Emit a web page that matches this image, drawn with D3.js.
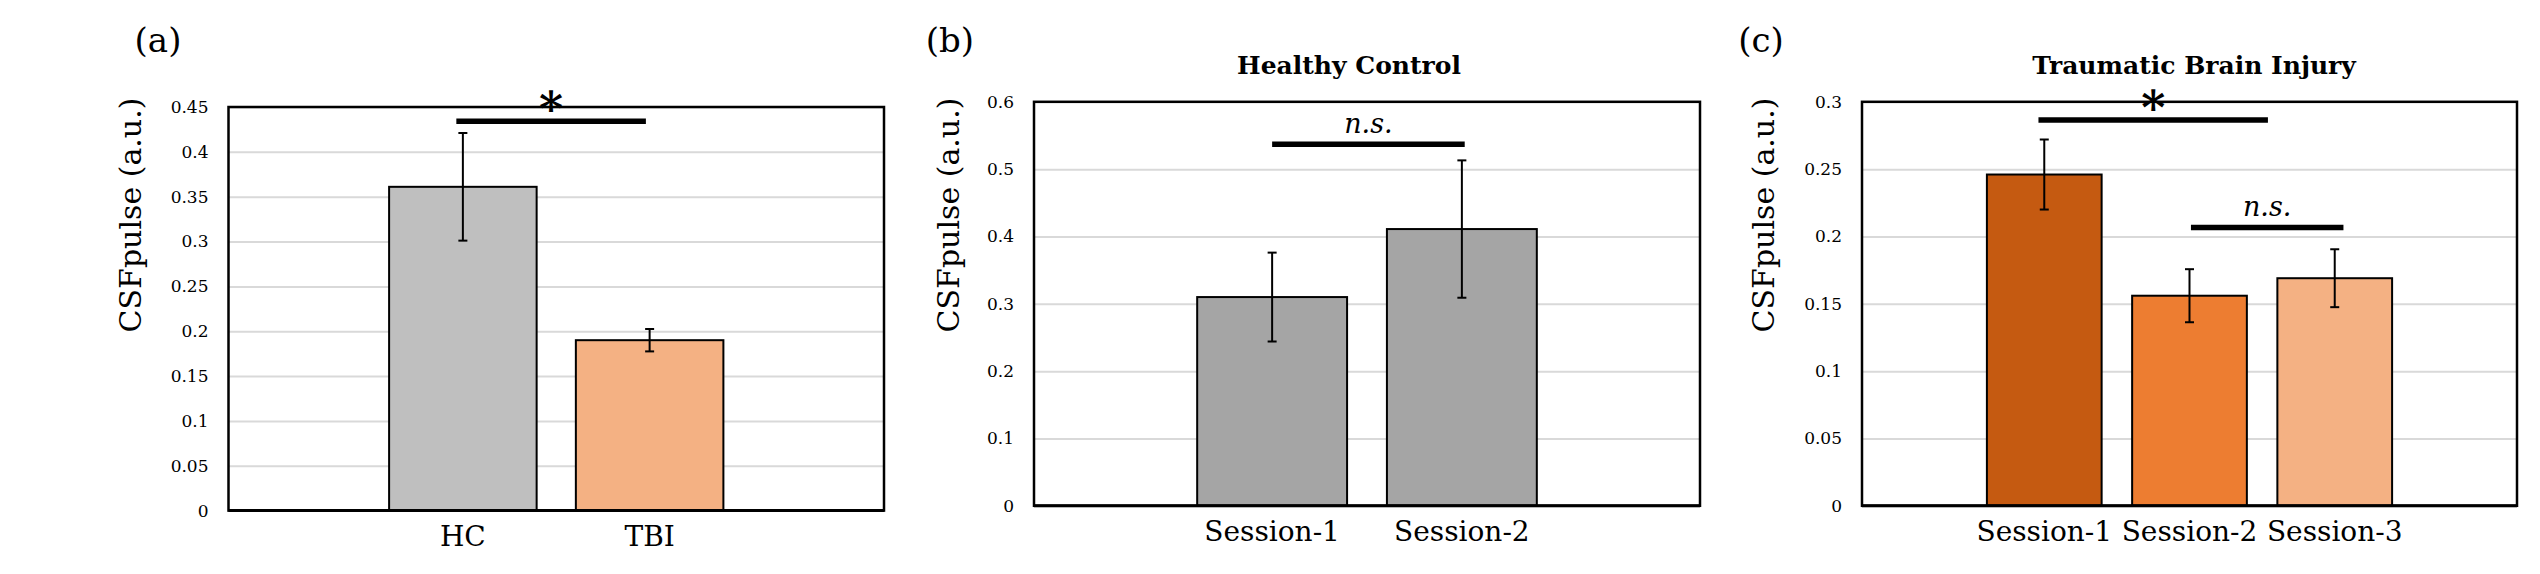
<!DOCTYPE html>
<html>
<head>
<meta charset="utf-8">
<script src="https://cdn.jsdelivr.net/npm/d3@7"></script>
<style>
  body { margin: 0; background: #fff; }
  svg { display: block; }
  .tick text { font-family: "DejaVu Serif", serif; }
</style>
</head>
<body>
<div class="chart"></div>
<script>
"use strict";

const W = 2540, H = 574;

// DATA ----------------------------
const panelACategories = ["HC", "TBI"];
const panelAMeans = [0.361, 0.19];
const panelAErrors = [0.06, 0.0125];
const panelAColors = ["#BFBFBF", "#F4B183"];
const panelATicks = [0, 0.05, 0.1, 0.15, 0.2, 0.25, 0.3, 0.35, 0.4, 0.45];
const panelASig = [{ from: -0.035, to: 0.98, y: 0.434, label: "*" }];

const panelBCategories = ["Session-1", "Session-2"];
const panelBMeans = [0.31, 0.411];
const panelBErrors = [0.066, 0.102];
const panelBColors = ["#A5A5A5", "#A5A5A5"];
const panelBTicks = [0, 0.1, 0.2, 0.3, 0.4, 0.5, 0.6];
const panelBSig = [{ from: 0, to: 1.015, y: 0.537, label: "n.s." }];

const panelCCategories = ["Session-1", "Session-2", "Session-3"];
const panelCMeans = [0.246, 0.156, 0.169];
const panelCErrors = [0.026, 0.0197, 0.0215];
const panelCColors = ["#C55A11", "#ED7D31", "#F4B183"];
const panelCTicks = [0, 0.05, 0.1, 0.15, 0.2, 0.25, 0.3];
const panelCSig = [
  { from: -0.04, to: 1.54, y: 0.2865, label: "*" },
  { from: 1.01, to: 2.06, y: 0.2067, label: "n.s." }
];

// LAYOUT ----------------------------
const panels = [
  {
    tag: "(a)", tagX: 158, title: null,
    left: 228.5, right: 884, top: 107, bottom: 510.6,
    yTitleX: 130,
    cats: panelACategories, means: panelAMeans, errs: panelAErrors,
    colors: panelAColors, ticks: panelATicks, sig: panelASig, labelY: 546
  },
  {
    tag: "(b)", tagX: 950, title: "Healthy Control", titleX: 1349,
    left: 1034, right: 1700, top: 101.8, bottom: 505.8,
    yTitleX: 948,
    cats: panelBCategories, means: panelBMeans, errs: panelBErrors,
    colors: panelBColors, ticks: panelBTicks, sig: panelBSig, labelY: 541
  },
  {
    tag: "(c)", tagX: 1761, title: "Traumatic Brain Injury", titleX: 2194,
    left: 1862, right: 2517, top: 101.8, bottom: 505.8,
    yTitleX: 1763,
    cats: panelCCategories, means: panelCMeans, errs: panelCErrors,
    colors: panelCColors, ticks: panelCTicks, sig: panelCSig, labelY: 541
  }
];

const svg = d3
  .select(".chart")
  .append("svg")
  .attr("width", W)
  .attr("height", H);

svg.append("rect").attr("width", W).attr("height", H).attr("fill", "#fff");

function drawPanel(p) {
  const g = svg.append("g");
  const width = p.right - p.left;

  const x = d3
    .scaleBand()
    .domain(p.cats)
    .range([p.left, p.right])
    .paddingInner(0.21)
    .paddingOuter(0.86);

  const y = d3
    .scaleLinear()
    .domain([0, d3.max(p.ticks)])
    .range([p.bottom, p.top]);

  // position along category index (fractional allowed)
  const pos = d3
    .scaleLinear()
    .domain([0, 1])
    .range([x(p.cats[0]) + x.bandwidth() / 2, x(p.cats[0]) + x.bandwidth() / 2 + x.step()]);

  const data = p.cats.map((c, i) => ({ cat: c, mean: p.means[i], err: p.errs[i], color: p.colors[i] }));

  // gridlines
  const grid = g
    .append("g")
    .attr("transform", `translate(${p.left},0)`)
    .call(d3.axisLeft(y).tickValues(p.ticks.filter((t) => t > 0)).tickSize(-width).tickFormat(""));
  grid.select(".domain").remove();
  grid.selectAll("line").attr("stroke", "#D9D9D9").attr("stroke-width", 2);

  // tick labels
  const yAxis = g
    .append("g")
    .attr("transform", `translate(${p.left - 20},0)`)
    .call(d3.axisLeft(y).tickValues(p.ticks).tickSize(0).tickPadding(0).tickFormat((d) => String(d)));
  yAxis.select(".domain").remove();
  yAxis.selectAll("text").attr("font-size", 17).attr("fill", "#000");

  // bars
  g.selectAll(".bar")
    .data(data)
    .enter()
    .append("rect")
    .attr("class", "bar")
    .attr("x", (d) => x(d.cat))
    .attr("y", (d) => y(d.mean))
    .attr("width", x.bandwidth())
    .attr("height", (d) => p.bottom - y(d.mean))
    .attr("fill", (d) => d.color)
    .attr("stroke", "#000")
    .attr("stroke-width", 2);

  // error bars
  const eb = g.selectAll(".err").data(data).enter().append("g").attr("class", "err");
  const cx = (d) => x(d.cat) + x.bandwidth() / 2;
  eb.append("line")
    .attr("x1", cx).attr("x2", cx)
    .attr("y1", (d) => y(d.mean + d.err))
    .attr("y2", (d) => y(d.mean - d.err));
  eb.append("line")
    .attr("x1", (d) => cx(d) - 4.5).attr("x2", (d) => cx(d) + 4.5)
    .attr("y1", (d) => y(d.mean + d.err)).attr("y2", (d) => y(d.mean + d.err));
  eb.append("line")
    .attr("x1", (d) => cx(d) - 4.5).attr("x2", (d) => cx(d) + 4.5)
    .attr("y1", (d) => y(d.mean - d.err)).attr("y2", (d) => y(d.mean - d.err));
  eb.selectAll("line").attr("stroke", "#000").attr("stroke-width", 2);

  // frame
  g.append("rect")
    .attr("x", p.left)
    .attr("y", p.top)
    .attr("width", width)
    .attr("height", p.bottom - p.top)
    .attr("fill", "none")
    .attr("stroke", "#000")
    .attr("stroke-width", 2.5);
  g.append("line")
    .attr("x1", p.left).attr("x2", p.right)
    .attr("y1", p.bottom).attr("y2", p.bottom)
    .attr("stroke", "#000").attr("stroke-width", 3);

  // x labels
  g.selectAll(".xlab")
    .data(data)
    .enter()
    .append("text")
    .attr("class", "xlab")
    .attr("x", cx)
    .attr("y", p.labelY)
    .attr("text-anchor", "middle")
    .attr("font-family", "DejaVu Serif, serif")
    .attr("font-size", 28)
    .text((d) => d.cat);

  // y title
  g.append("text")
    .attr("transform", `translate(${p.yTitleX},215) rotate(-90)`)
    .attr("dy", "0.36em")
    .attr("text-anchor", "middle")
    .attr("font-family", "DejaVu Serif, serif")
    .attr("font-size", 30)
    .text("CSFpulse (a.u.)");

  // panel tag
  g.append("text")
    .attr("x", p.tagX)
    .attr("y", 52)
    .attr("text-anchor", "middle")
    .attr("font-family", "DejaVu Serif, serif")
    .attr("font-size", 34)
    .text(p.tag);

  // title
  if (p.title) {
    g.append("text")
      .attr("x", p.titleX)
      .attr("y", 74)
      .attr("text-anchor", "middle")
      .attr("font-family", "DejaVu Serif, serif")
      .attr("font-weight", "bold")
      .attr("font-size", 25)
      .text(p.title);
  }

  // significance markers
  p.sig.forEach((s) => {
    const x0 = pos(s.from), x1 = pos(s.to), yy = y(s.y);
    g.append("line")
      .attr("x1", x0).attr("x2", x1)
      .attr("y1", yy).attr("y2", yy)
      .attr("stroke", "#000")
      .attr("stroke-width", 5.5);
    const star = s.label === "*";
    g.append("text")
      .attr("x", (x0 + x1) / 2)
      .attr("y", star ? yy + 4 : yy - 11)
      .attr("text-anchor", "middle")
      .attr("font-family", "DejaVu Serif, serif")
      .attr("font-weight", star ? "bold" : "normal")
      .attr("font-style", star ? "normal" : "italic")
      .attr("font-size", star ? 46 : 27)
      .text(s.label);
  });
}

panels.forEach(drawPanel);
</script>
</body>
</html>
